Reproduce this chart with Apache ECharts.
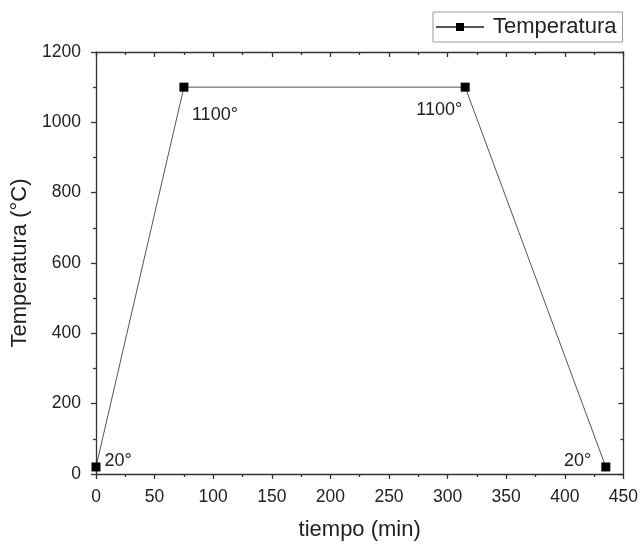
<!DOCTYPE html>
<html><head><meta charset="utf-8">
<script src="https://cdn.jsdelivr.net/npm/echarts@6/dist/echarts.min.js"></script>
<style>html,body{margin:0;padding:0;background:#fff}#c{width:641px;height:546px}</style>
</head><body><div id="c"></div>
<script>
const tiempo = [0, 75, 315, 435];
const temperatura = [20, 1100, 1100, 20];
const etiquetas = ['20°', '1100°', '1100°', '20°'];
const seriesName = 'Temperatura';

const labelCfg = [
  {position: 'right', offset: [-1, -6]},
  {position: 'bottom', offset: [31, 9]},
  {position: 'bottom', offset: [-26, 4]},
  {position: 'left', offset: [-5, -6]}
];
const F = 'Liberation Sans, Arial, sans-serif';
const C = '#222';
const chart = echarts.init(document.getElementById('c'));
const tickStyle = {color: '#333', width: 1.3};
const axisCommon = {
  axisLine: {show: true, onZero: false, lineStyle: {color: '#333', width: 1.3}},
  splitLine: {show: false}
};
chart.setOption({
  animation: false,
  grid: {left: 96, top: 52, width: 528, height: 427},
  legend: {
    left: 433, top: 12, itemWidth: 48, itemHeight: 10, itemGap: 0,
    padding: [4, 6, 4, 2], borderColor: '#999', borderWidth: 1,
    textStyle: {fontFamily: F, fontSize: 22, color: C, padding: [0, 0, 0, 4]},
    data: [seriesName]
  },
  xAxis: [
    Object.assign({}, axisCommon, {
      type: 'value', min: 0, max: 450, interval: 50, position: 'bottom',
      name: 'tiempo (min)', nameLocation: 'middle', nameGap: 45,
      nameTextStyle: {fontFamily: F, fontSize: 22, color: C},
      axisTick: {show: true, inside: false, length: 5, lineStyle: tickStyle},
      minorTick: {show: true, splitNumber: 2, length: 3, lineStyle: tickStyle},
      axisLabel: {fontFamily: F, fontSize: 17.5, color: C, margin: 14, formatter: v => String(v)}
    }),
    Object.assign({}, axisCommon, {
      type: 'value', min: 0, max: 450, interval: 50, position: 'top',
      axisTick: {show: true, inside: true, length: 5, lineStyle: tickStyle},
      minorTick: {show: true, splitNumber: 2, length: 3, lineStyle: tickStyle},
      axisLabel: {show: false}
    })
  ],
  yAxis: [
    Object.assign({}, axisCommon, {
      type: 'value', min: 0, max: 1200, interval: 200, position: 'left',
      name: 'Temperatura (°C)', nameLocation: 'middle', nameGap: 57,
      nameTextStyle: {fontFamily: F, fontSize: 22, color: C},
      axisTick: {show: true, inside: false, length: 5, lineStyle: tickStyle},
      minorTick: {show: true, splitNumber: 2, length: 3, lineStyle: tickStyle},
      axisLabel: {fontFamily: F, fontSize: 17.5, color: C, margin: 15, formatter: v => String(v)}
    }),
    Object.assign({}, axisCommon, {
      type: 'value', min: 0, max: 1200, interval: 200, position: 'right',
      axisTick: {show: true, inside: true, length: 5, lineStyle: tickStyle},
      minorTick: {show: true, splitNumber: 2, length: 3, lineStyle: tickStyle},
      axisLabel: {show: false}
    })
  ],
  series: [{
    name: seriesName, type: 'line', xAxisIndex: 0, yAxisIndex: 0,
    symbol: 'rect', symbolSize: 9,
    itemStyle: {color: '#000'},
    lineStyle: {color: '#555', width: 1},
    data: tiempo.map((t, i) => ({
      value: [t, temperatura[i]],
      label: Object.assign({show: true, formatter: etiquetas[i], fontFamily: F, fontSize: 18, color: C}, labelCfg[i])
    }))
  }]
});
</script></body></html>
